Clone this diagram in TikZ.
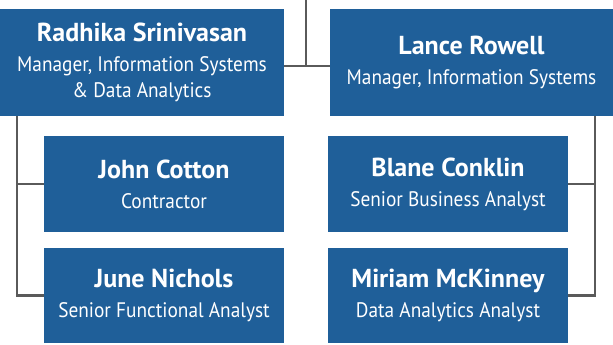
\documentclass[tikz,border=0pt]{standalone}
\usepackage{fontspec}
\setmainfont{PT Sans}[FakeStretch=0.92]
\newfontfamily\namefont{PT Sans}
\usepackage{tikz}
\definecolor{boxblue}{RGB}{31,95,153}
\definecolor{linegray}{RGB}{90,90,90}
\tikzset{
  orgbox/.style={fill=boxblue,text=white,align=center,inner sep=0pt,
    minimum width=240pt,minimum height=96pt,font=\fontsize{21}{26}\selectfont},
  headbox/.style={orgbox,minimum width=284pt,minimum height=107pt},
  link/.style={linegray,line width=2.2pt}
}
\newcommand{\who}[1]{{\fontsize{26}{30}\namefont\bfseries #1}}
\begin{document}
\begin{tikzpicture}[x=1pt,y=-1pt]
  \useasboundingbox (0,0) rectangle (613,345);

  \node[headbox] (radhika) at (142,62.5)
    {\who{Radhika Srinivasan}\\[4pt]Manager, Information Systems\\\& Data Analytics};
  \node[headbox,minimum width=283pt] (lance) at (471.5,62.5)
    {\who{Lance Rowell}\\[4pt]Manager, Information Systems};

  \node[orgbox] (john) at (164,184) {\who{John Cotton}\\[4pt]Contractor};
  \node[orgbox,minimum height=95pt] (june) at (164,295.5)
    {\who{June Nichols}\\[4pt]Senior Functional Analyst};
  \node[orgbox] (blane) at (448,184) {\who{Blane Conklin}\\[4pt]Senior Business Analyst};
  \node[orgbox,minimum height=95pt] (miriam) at (448,295.5)
    {\who{Miriam McKinney}\\[4pt]Data Analytics Analyst};

  % top joint between the two managers
  \coordinate (top) at (306,0);
  \coordinate (hub) at (306,66);
  \draw[link] (top) -- (hub);
  \draw[link] (radhika.east |- hub) -- (lance.west |- hub);

  % left spine
  \coordinate (lspine) at ([xshift=17pt]radhika.south west);
  \draw[link] (lspine) |- (june.west);
  \draw[link] (john.west) -- (john.west -| lspine);

  % right spine
  \coordinate (rspine) at ([xshift=-18pt]lance.south east);
  \draw[link] (rspine) |- (miriam.east);
  \draw[link] (blane.east) -- (blane.east -| rspine);
\end{tikzpicture}
\end{document}
